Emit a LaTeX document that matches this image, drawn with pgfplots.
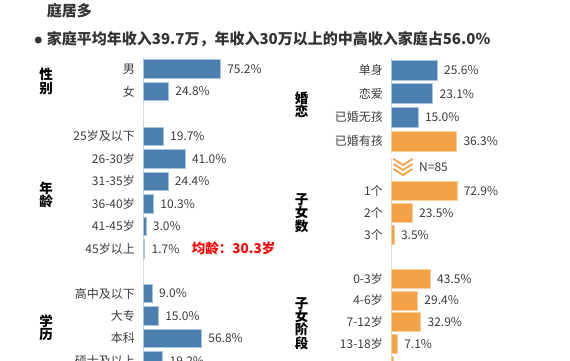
\documentclass[border=0pt]{standalone}
\usepackage{fontspec}
\setmainfont{Noto Sans CJK SC}
\usepackage{pgfplots}
\pgfplotsset{compat=1.18}
\definecolor{barblue}{HTML}{4A7FB0}
\definecolor{barorange}{HTML}{F4A246}
\definecolor{blueedge}{HTML}{A9C4DD}
\definecolor{orangeedge}{HTML}{F9CFA0}
\definecolor{labgray}{HTML}{3C3C3C}
\definecolor{axisgray}{HTML}{DCDCDC}
\definecolor{titlegray}{HTML}{333333}
\newcommand{\lab}{\fontsize{12}{12}\selectfont}
\pgfplotsset{
  panel/.style={
    xbar, scale only axis, hide x axis,
    axis y line*=left,
    y axis line style={draw=axisgray, line width=0.8pt, -},
    major tick length=0pt, tick style={draw=none},
    xmin=0, xmax=100, bar shift=0pt,
    yticklabel style={font=\lab, text=labgray, inner sep=0pt, xshift=-8pt, anchor=east},
    point meta=x,
    nodes near coords={\pgfmathprintnumber[fixed,fixed zerofill,precision=1,assume math mode=true]{\pgfplotspointmeta}\%},
    nodes near coords style={anchor=west, font=\lab, text=labgray, inner sep=0pt, xshift=6.5pt},
    clip=false, anchor=north west,
  },
  bblue/.style={fill=barblue, draw=blueedge, line width=0.7pt},
  borange/.style={fill=barorange, draw=orangeedge, line width=0.7pt},
}
\tikzset{grp/.style={align=center, inner sep=0pt, text=black, font=\fontsize{13.5}{13.3}\selectfont\bfseries}}
\begin{document}
\begin{tikzpicture}
\fill[white] (0pt,0pt) rectangle (570pt,-360pt);
% titles
\node[anchor=west, inner sep=0pt, text=titlegray, font=\fontsize{15}{15}\selectfont\bfseries] at (46.7pt,-10.5pt) {庭居多};
\fill[titlegray] (38.3pt,-40pt) circle (3.5pt);
\node[anchor=west, inner sep=0pt, text=titlegray, font=\fontsize{15}{15}\selectfont\bfseries] at (46.7pt,-39.5pt) {家庭平均年收入39.7万，年收入30万以上的中高收入家庭占56.0\%};
% left panel
\begin{axis}[panel, at={(143pt,-57.8pt)}, width=103pt, height=314.3pt,
  ymin=-13.5, ymax=0.5, bar width=18.5pt,
  ytick={0,-1,-3,-4,-5,-6,-7,-8,-10,-11,-12,-13},
  yticklabels={男,女,25岁及以下,26-30岁,31-35岁,36-40岁,41-45岁,45岁以上,高中及以下,大专,本科,硕士及以上}]
\addplot[bblue] coordinates {(75.2,0) (24.8,-1) (19.7,-3) (41.0,-4) (24.4,-5) (10.3,-6) (3.0,-7) (1.7,-8) (9.0,-10) (15.0,-11) (56.8,-12) (19.2,-13)};
\end{axis}
% right: marriage
\begin{axis}[panel, at={(391pt,-58.2pt)}, width=181pt, height=94.7pt,
  ymin=-3.5, ymax=0.5, bar width=20pt,
  ytick={0,-1,-2,-3}, yticklabels={单身,恋爱,已婚无孩,已婚有孩}]
\addplot[bblue] coordinates {(25.6,0) (23.1,-1) (15.0,-2)};
\addplot[borange] coordinates {(36.3,-3)};
\end{axis}
% right: number of children
\begin{axis}[panel, at={(391pt,-158pt)}, width=90.5pt, height=88pt,
  ymin=-2.5, ymax=1.5, bar width=18.5pt,
  ytick={0,-1,-2}, yticklabels={1个,2个,3个}]
\addplot[borange] coordinates {(72.9,0) (23.5,-1) (3.5,-2)};
\end{axis}
% right: children's stage
\begin{axis}[panel, at={(391pt,-246pt)}, width=90.5pt, height=130.5pt,
  ymin=-4.5, ymax=1.5, bar width=19pt,
  ytick={0,-1,-2,-3}, yticklabels={0-3岁,4-6岁,7-12岁,13-18岁}]
\addplot[borange] coordinates {(43.5,0) (29.4,-1) (32.9,-2) (7.1,-3) (2.4,-4)};
\end{axis}
% group labels
\node[grp] at (46pt,-81.5pt) {性\\别};
\node[grp] at (46pt,-195pt) {年\\龄};
\node[grp] at (46pt,-328pt) {学\\历};
\node[grp] at (301.5pt,-105pt) {婚\\恋};
\node[grp] at (301.5pt,-213pt) {子\\女\\数};
\node[grp] at (301.5pt,-323.5pt) {子\\女\\阶\\段};
% annotations
\node[anchor=west, inner sep=0pt, text=red, font=\fontsize{13.5}{13.5}\selectfont\bfseries] at (191.7pt,-248pt) {均龄：30.3岁};
\foreach \k in {0,5,10} {
  \draw[barorange, line width=1.8pt] (393.5pt,-159pt-\k pt) -- (403pt,-165pt-\k pt) -- (412.5pt,-159pt-\k pt);
}
\node[anchor=west, inner sep=0pt, text=labgray, font=\lab] at (419pt,-166.7pt) {N=85};
\pgfresetboundingbox
\useasboundingbox (0pt,0pt) rectangle (570pt,-360pt);
\end{tikzpicture}
\end{document}
